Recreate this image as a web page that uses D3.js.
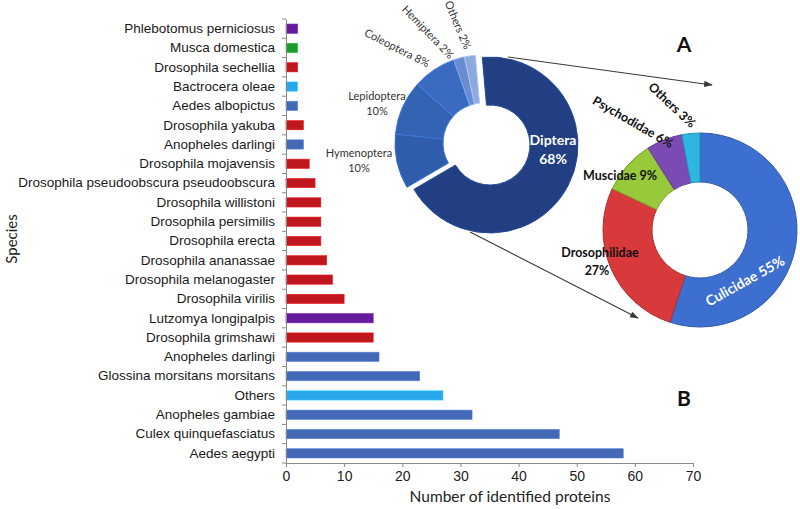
<!DOCTYPE html>
<html>
<head>
<meta charset="utf-8">
<script src="https://cdn.jsdelivr.net/npm/d3@7"></script>
<style>
  body { margin: 0; background: #fff; }
  svg { display: block; font-family: Lato, "Open Sans", sans-serif; }
</style>
</head>
<body>
<div id="chart-container"></div>
<script>
// bar chart data (top to bottom)
const species = [
  "Phlebotomus perniciosus", "Musca domestica", "Drosophila sechellia", "Bactrocera oleae",
  "Aedes albopictus", "Drosophila yakuba", "Anopheles darlingi", "Drosophila mojavensis",
  "Drosophila pseudoobscura pseudoobscura", "Drosophila willistoni", "Drosophila persimilis",
  "Drosophila erecta", "Drosophila ananassae", "Drosophila melanogaster", "Drosophila virilis",
  "Lutzomya longipalpis", "Drosophila grimshawi", "Anopheles darlingi", "Glossina morsitans morsitans",
  "Others", "Anopheles gambiae", "Culex quinquefasciatus", "Aedes aegypti"
];
const proteins = [2, 2, 2, 2, 2, 3, 3, 4, 5, 6, 6, 6, 7, 8, 10, 15, 15, 16, 23, 27, 32, 47, 58];
const family = [
  "Psychodidae", "Muscidae", "Drosophilidae", "Others", "Culicidae", "Drosophilidae", "Culicidae",
  "Drosophilidae", "Drosophilidae", "Drosophilidae", "Drosophilidae", "Drosophilidae", "Drosophilidae",
  "Drosophilidae", "Drosophilidae", "Psychodidae", "Drosophilidae", "Culicidae", "Culicidae",
  "Others", "Culicidae", "Culicidae", "Culicidae"
];
const xTicks = [0, 10, 20, 30, 40, 50, 60, 70];

// donut A: insect orders
const orders = ["Diptera", "Hymenoptera", "Lepidoptera", "Coleoptera", "Hemiptera", "Others"];
const orderPct = [68, 10, 10, 8, 2, 2];

// donut B: Diptera families
const families = ["Culicidae", "Drosophilidae", "Muscidae", "Psychodidae", "Others"];
const familyPct = [55, 27, 9, 6, 3];

const barColor = {
  Culicidae: "#4369b6", Drosophilidae: "#c0161d", Psychodidae: "#641c9c",
  Muscidae: "#1e9a2d", Others: "#2aa7ec"
};
const orderColor = ["#213f82", "#2f5dab", "#3463b4", "#3a6bc0", "#6a8dd0", "#8ea9dd"];
const familyColor = ["#3d6fd0", "#d8393a", "#98c93a", "#7a4cb3", "#2db6e2"];

const W = 800, H = 509;
const svg = d3.select("#chart-container").append("svg")
  .attr("width", W).attr("height", H);

const defs = svg.append("defs");
defs.append("marker").attr("id", "arr")
  .attr("viewBox", "0 0 10 10").attr("refX", 9).attr("refY", 5)
  .attr("markerWidth", 8).attr("markerHeight", 8).attr("orient", "auto")
  .append("path").attr("d", "M0,1.5L10,5L0,8.5Z").attr("fill", "#3a3a3a");

// scales
const x = d3.scaleLinear().domain([0, 70]).range([286, 693]);
const y = d3.scaleBand().domain(d3.range(species.length)).range([19, 463]).paddingInner(0.52).paddingOuter(0.26);

// bars
svg.append("g").selectAll("rect")
  .data(proteins)
  .join("rect")
  .attr("x", x(0))
  .attr("y", (d, i) => y(i))
  .attr("width", d => x(d) - x(0))
  .attr("height", y.bandwidth())
  .attr("fill", (d, i) => barColor[family[i]])
  .attr("stroke", (d, i) => d3.color(barColor[family[i]]).brighter(0.6))
  .attr("stroke-width", 0.6);

// y axis
const yAxis = d3.axisLeft(y).tickSize(0).tickPadding(11).tickFormat(i => species[i]);
svg.append("g")
  .attr("transform", `translate(${x(0)},0)`)
  .call(yAxis)
  .call(g => g.select(".domain").attr("stroke", "#8a8a8a"))
  .selectAll(".tick text")
  .style("font-size", "13.5px")
  .attr("fill", "#1a1a1a");

// category boundary ticks
const step = y.step();
svg.append("g").selectAll("line")
  .data(d3.range(species.length + 1))
  .join("line")
  .attr("x1", x(0) - 4).attr("x2", x(0))
  .attr("y1", i => 19 + i * (444 / species.length))
  .attr("y2", i => 19 + i * (444 / species.length))
  .attr("stroke", "#8a8a8a");

// x axis
const xAxis = d3.axisBottom(x).tickValues(xTicks).tickSize(4).tickPadding(4);
svg.append("g")
  .attr("transform", "translate(0,463)")
  .call(xAxis)
  .call(g => g.selectAll("path, line").attr("stroke", "#8a8a8a"))
  .selectAll(".tick text")
  .style("font-size", "14px")
  .attr("fill", "#222");

// axis titles
svg.append("text")
  .attr("x", 510).attr("y", 502)
  .attr("text-anchor", "middle")
  .style("font-size", "15.5px").attr("fill", "#222")
  .text("Number of identified proteins");
svg.append("text")
  .attr("transform", "translate(17,239) rotate(-90)")
  .attr("text-anchor", "middle")
  .style("font-size", "15px").attr("fill", "#222")
  .text("Species");

// donut A
const cA = [490, 145];
const pieA = d3.pie().sort(null).startAngle(-5 * Math.PI / 180).endAngle(355 * Math.PI / 180);
const arcA = d3.arc().innerRadius(40).outerRadius(88);
const gA = svg.append("g").attr("transform", `translate(${cA[0]},${cA[1]})`);
gA.selectAll("path")
  .data(pieA(orderPct))
  .join("path")
  .attr("transform", (d, i) => i === 0 ? null : "translate(-7,-2)")
  .attr("d", arcA)
  .attr("fill", (d, i) => orderColor[i])
  .attr("stroke", (d, i) => d3.color(orderColor[i]).brighter(0.5))
  .attr("stroke-width", 1);

const labA = [
  { t: ["Diptera", "68%"], dx: 63, dy: -5, rot: 0, fill: "#fff", size: 14, w: "bold" },
  { t: ["Hymenoptera", "10%"], dx: -131, dy: 8, rot: 0, fill: "#333", size: 11, w: "normal" },
  { t: ["Lepidoptera", "10%"], dx: -113, dy: -49, rot: 0, fill: "#333", size: 11, w: "normal" },
  { t: [orders[3] + " 8%"], dx: -93, dy: -97, rot: 27, fill: "#333", size: 11, w: "normal" },
  { t: [orders[4] + " 2%"], dx: -62, dy: -113, rot: 46, fill: "#333", size: 11, w: "normal" },
  { t: [orders[5] + " 2%"], dx: -32, dy: -120, rot: 67, fill: "#333", size: 11, w: "normal" }
];
labA.forEach(l => {
  const t = gA.append("text")
    .attr("transform", `translate(${l.dx},${l.dy}) rotate(${l.rot})`)
    .attr("text-anchor", "middle")
    .attr("fill", l.fill)
    .style("font-size", l.size + "px")
    .style("font-weight", l.w);
  l.t.forEach((s, k) => t.append("tspan").attr("x", 0).attr("dy", k === 0 ? "0.35em" : "1.35em").text(s));
});

// donut B
const cB = [700, 230];
const pieB = d3.pie().sort(null);
const arcB = d3.arc().innerRadius(48).outerRadius(97);
const gB = svg.append("g").attr("transform", `translate(${cB[0]},${cB[1]})`);
gB.selectAll("path")
  .data(pieB(familyPct))
  .join("path")
  .attr("d", arcB)
  .attr("fill", (d, i) => familyColor[i])
  .attr("stroke", (d, i) => d3.color(familyColor[i]).darker(0.6))
  .attr("stroke-width", 1);

const labB = [
  { t: [families[0] + " 55%"], dx: 45, dy: 51, rot: -29, fill: "#fff", size: 14 },
  { t: [families[1], "27%"], dx: -100, dy: 23, rot: 0, fill: "#111", size: 12.5 },
  { t: [families[2] + " 9%"], dx: -80, dy: -54, rot: 0, fill: "#111", size: 12.5 },
  { t: [families[3] + " 6%"], dx: -67, dy: -108, rot: 30, fill: "#111", size: 12.5 },
  { t: [families[4] + " 3%"], dx: -28, dy: -125, rot: 43, fill: "#111", size: 12.5 }
];
labB.forEach(l => {
  const t = gB.append("text")
    .attr("transform", `translate(${l.dx},${l.dy}) rotate(${l.rot})`)
    .attr("text-anchor", "middle")
    .attr("fill", l.fill)
    .style("font-size", l.size + "px")
    .style("font-weight", "bold");
  l.t.forEach((s, k) => t.append("tspan").attr("x", 0).attr("dx", k === 1 ? -3 : 0).attr("dy", k === 0 ? "0.35em" : "1.4em").text(s));
});

// zoom arrows from Diptera to donut B
const arrows = [[[cA[0] + 18, cA[1] - 88], [712, 85]], [[cA[0] - 20, cA[1] + 87], [638, 318]]];
svg.append("g").selectAll("line")
  .data(arrows)
  .join("line")
  .attr("x1", d => d[0][0]).attr("y1", d => d[0][1])
  .attr("x2", d => d[1][0]).attr("y2", d => d[1][1])
  .attr("stroke", "#3a3a3a").attr("stroke-width", 1.1)
  .attr("marker-end", "url(#arr)");

// panel letters
svg.append("text").attr("x", 684).attr("y", 52).attr("text-anchor", "middle")
  .style("font-size", "21px").style("font-weight", "bold").attr("fill", "#111").text("A");
svg.append("text").attr("x", 684).attr("y", 406).attr("text-anchor", "middle")
  .style("font-size", "21px").style("font-weight", "bold").attr("fill", "#111").text("B");
</script>
</body>
</html>
